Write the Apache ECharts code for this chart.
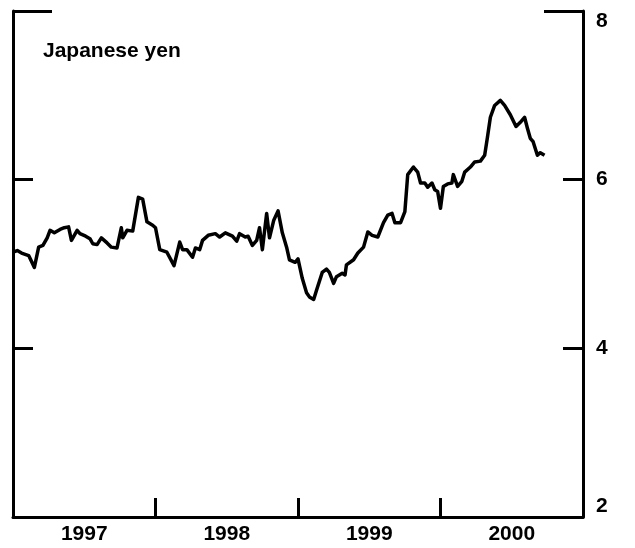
<!DOCTYPE html>
<html>
<head>
<meta charset="utf-8">
<script src="https://cdn.jsdelivr.net/npm/echarts@6/dist/echarts.min.js"></script>
<style>
  html, body { margin: 0; padding: 0; background: #ffffff; }
  #chart { width: 635px; height: 548px; }
</style>
</head>
<body>
<div id="chart"></div>
<script>
const TITLE = "Japanese yen";

// time as decimal years
const dates = [
  1997.00, 1997.03, 1997.06, 1997.11, 1997.15, 1997.18, 1997.21, 1997.24, 1997.26, 1997.29,
  1997.33, 1997.36, 1997.39, 1997.41, 1997.45, 1997.47, 1997.51, 1997.54, 1997.56, 1997.59,
  1997.62, 1997.66, 1997.69, 1997.73, 1997.76, 1997.77, 1997.80, 1997.84, 1997.88, 1997.91,
  1997.94, 1997.98, 1998.00, 1998.03, 1998.08, 1998.13, 1998.17, 1998.19, 1998.22, 1998.26,
  1998.28, 1998.31, 1998.33, 1998.37, 1998.42, 1998.45, 1998.49, 1998.54, 1998.57, 1998.59,
  1998.63, 1998.65, 1998.68, 1998.71, 1998.73, 1998.75, 1998.78, 1998.80, 1998.83, 1998.86,
  1998.89, 1998.92, 1998.94, 1998.98, 1999.00, 1999.03, 1999.06, 1999.08, 1999.11, 1999.13,
  1999.17, 1999.20, 1999.22, 1999.25, 1999.27, 1999.31, 1999.33, 1999.34, 1999.39, 1999.42,
  1999.46, 1999.49, 1999.52, 1999.56, 1999.60, 1999.63, 1999.66, 1999.68, 1999.72, 1999.75,
  1999.77, 1999.81, 1999.84, 1999.86, 1999.89, 1999.91, 1999.94, 1999.96, 1999.98, 2000.00,
  2000.02, 2000.05, 2000.08, 2000.09, 2000.12, 2000.15, 2000.17, 2000.21, 2000.24, 2000.28,
  2000.31, 2000.33, 2000.35, 2000.38, 2000.42, 2000.45, 2000.49, 2000.53, 2000.56, 2000.59,
  2000.61, 2000.63, 2000.65, 2000.68, 2000.70, 2000.73
];

const yen = [
  5.14, 5.16, 5.13, 5.10, 4.96, 5.20, 5.22, 5.31, 5.40, 5.37,
  5.41, 5.43, 5.44, 5.28, 5.40, 5.36, 5.33, 5.30, 5.24, 5.23,
  5.31, 5.25, 5.20, 5.19, 5.43, 5.31, 5.40, 5.39, 5.79, 5.77,
  5.50, 5.46, 5.43, 5.17, 5.14, 4.98, 5.26, 5.17, 5.17, 5.08,
  5.19, 5.17, 5.28, 5.34, 5.36, 5.32, 5.37, 5.33, 5.27, 5.36,
  5.32, 5.33, 5.22, 5.28, 5.43, 5.17, 5.60, 5.31, 5.52, 5.63,
  5.37, 5.20, 5.05, 5.02, 5.06, 4.83, 4.66, 4.61, 4.58, 4.69,
  4.90, 4.94, 4.90, 4.77, 4.85, 4.89, 4.87, 4.99, 5.05, 5.13,
  5.20, 5.38, 5.34, 5.32, 5.49, 5.58, 5.60, 5.49, 5.49, 5.62,
  6.06, 6.15, 6.09, 5.96, 5.96, 5.91, 5.96, 5.88, 5.86, 5.66,
  5.92, 5.95, 5.96, 6.06, 5.92, 5.98, 6.09, 6.15, 6.21, 6.22,
  6.29, 6.51, 6.74, 6.88, 6.94, 6.88, 6.77, 6.63, 6.68, 6.74,
  6.61, 6.49, 6.45, 6.29, 6.32, 6.29
];

const X_MIN = 1997;
const X_MAX = 2001;
const Y_MIN = 2;
const Y_MAX = 8;

const ink = "#000000";
const fontFamily = "'Liberation Sans', Arial, sans-serif";

const chart = echarts.init(document.getElementById("chart"));

function yAxisDef(position, interval, tickLength, showLine, showLabel) {
  return {
    type: "value",
    position,
    min: Y_MIN,
    max: Y_MAX,
    interval,
    axisLine: { show: showLine, lineStyle: { color: ink, width: 3 } },
    axisTick: { show: true, inside: true, length: tickLength, lineStyle: { color: ink, width: 3 } },
    axisLabel: {
      show: showLabel,
      color: ink,
      fontSize: 21,
      fontWeight: "bold",
      fontFamily,
      margin: 13,
      verticalAlignMaxLabel: "top",
      verticalAlignMinLabel: "bottom"
    },
    splitLine: { show: false }
  };
}

chart.setOption({
  animation: false,
  backgroundColor: "#ffffff",
  title: {
    text: TITLE,
    left: 43,
    top: 41,
    padding: 0,
    textStyle: { color: ink, fontSize: 21, fontWeight: "bold", fontFamily }
  },
  grid: { left: 13, right: 52, top: 11, bottom: 31 },
  xAxis: [
    {
      type: "value",
      min: X_MIN,
      max: X_MAX,
      interval: 1,
      axisLine: { show: true, lineStyle: { color: ink, width: 3 } },
      axisTick: { show: true, inside: true, length: 19, lineStyle: { color: ink, width: 3 } },
      axisLabel: { show: false },
      splitLine: { show: false }
    },
    {
      // year labels sit in the middle of each year
      type: "value",
      position: "bottom",
      min: X_MIN,
      max: X_MAX,
      interval: 0.5,
      axisLine: { show: false },
      axisTick: { show: false },
      axisLabel: {
        color: ink,
        fontSize: 21,
        fontWeight: "bold",
        fontFamily,
        margin: 7,
        formatter: v => (v % 1 === 0.5 ? String(Math.floor(v)) : "")
      },
      splitLine: { show: false }
    }
  ],
  yAxis: [
    yAxisDef("left", 2, 20, true, false),
    yAxisDef("right", 2, 20, true, true),
    yAxisDef("left", 6, 39, false, false),
    yAxisDef("right", 6, 39, false, false)
  ],
  series: [
    {
      type: "line",
      xAxisIndex: 0,
      yAxisIndex: 0,
      data: dates.map((d, i) => [d, yen[i]]),
      symbol: "none",
      lineStyle: { color: ink, width: 3.5, join: "round" },
      silent: true
    }
  ]
});
</script>
</body>
</html>
